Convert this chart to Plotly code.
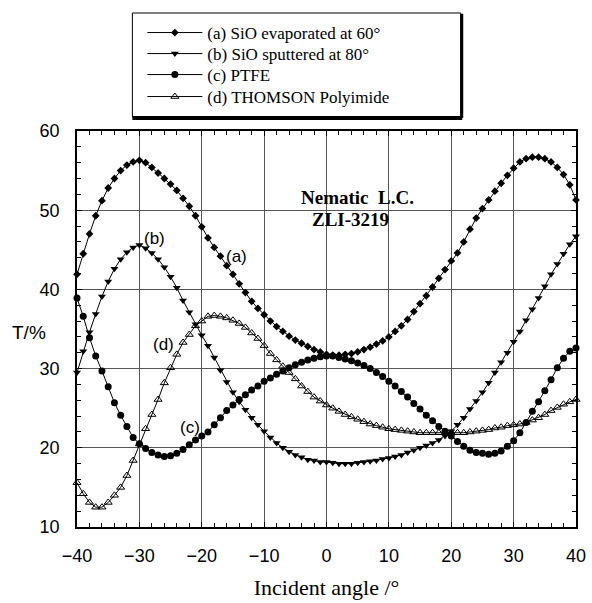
import plotly.graph_objects as go

angles = list(range(-40, 41))

series_a = [41.9, 44.5, 47.0, 49.3, 51.2, 52.8, 54.0, 55.0, 55.7, 56.1, 56.3, 56.0, 55.4, 54.7, 54.0, 53.3, 52.5, 51.5, 50.5, 49.3, 47.9,
            46.5, 45.3, 44.2, 43.0, 41.9, 40.7, 39.6, 38.5, 37.6, 36.8, 36.0, 35.3, 34.7, 34.1, 33.6, 33.2, 32.8, 32.4, 32.1, 31.8,
            31.7, 31.7, 31.8, 31.9, 32.1, 32.4, 32.7, 33.1, 33.5, 34.0, 34.7, 35.4, 36.2, 37.2, 38.2, 39.2, 40.3, 41.4, 42.5, 43.6,
            44.6, 46.0, 47.6, 49.0, 50.2, 51.3, 52.4, 53.4, 54.4, 55.3, 56.1, 56.5, 56.7, 56.7, 56.5, 56.1, 55.4, 54.5, 53.2, 51.3]

series_b = [29.5, 32.2, 34.6, 36.9, 39.1, 41.0, 42.6, 43.8, 44.7, 45.3, 45.6, 45.2, 44.6, 43.8, 42.8, 41.6, 40.2, 38.6, 37.1, 35.6, 34.2,
            32.9, 31.4, 29.8, 28.3, 27.0, 25.8, 24.8, 23.8, 22.9, 22.1, 21.3, 20.6, 20.0, 19.5, 19.1, 18.8, 18.5, 18.4, 18.2, 18.2,
            18.1, 18.0, 18.0, 18.0, 18.1, 18.2, 18.3, 18.4, 18.6, 18.7, 18.9, 19.1, 19.4, 19.7, 20.0, 20.3, 20.6, 21.0, 21.5, 22.1,
            22.9, 23.8, 24.9, 25.9, 27.0, 28.2, 29.5, 30.8, 32.0, 33.4, 34.7, 36.1, 37.5, 38.9, 40.4, 41.9, 43.2, 44.5, 45.7, 46.7]

series_c = [38.9, 36.6, 33.9, 31.6, 29.7, 27.7, 25.7, 24.1, 22.7, 21.3, 20.5, 19.9, 19.4, 19.1, 18.9, 19.0, 19.3, 19.8, 20.4, 21.0, 21.5,
            22.0, 22.9, 23.8, 24.7, 25.4, 26.1, 26.7, 27.3, 27.8, 28.4, 28.8, 29.3, 29.7, 30.1, 30.5, 30.8, 31.1, 31.3, 31.5, 31.6,
            31.6, 31.4, 31.2, 31.0, 30.7, 30.4, 30.0, 29.5, 29.0, 28.4, 27.8, 27.1, 26.4, 25.6, 24.9, 24.1, 23.4, 22.7, 22.1, 21.5,
            20.8, 20.2, 19.7, 19.4, 19.3, 19.2, 19.3, 19.6, 20.2, 20.9, 21.9, 23.2, 24.6, 25.8, 27.2, 28.6, 30.1, 31.3, 32.2, 32.6]

series_d = [15.6, 14.2, 13.1, 12.5, 12.5, 13.1, 14.0, 15.0, 16.5, 18.4, 20.5, 22.4, 24.2, 26.1, 28.2, 30.1, 31.8, 33.3, 34.3, 35.4, 36.0,
            36.6, 36.7, 36.6, 36.4, 36.1, 35.7, 35.2, 34.5, 33.8, 32.9, 31.9, 31.1, 30.3, 29.5, 28.7, 27.8, 27.1, 26.4, 25.9, 25.4,
            25.0, 24.6, 24.2, 23.9, 23.6, 23.3, 23.0, 22.8, 22.6, 22.4, 22.3, 22.2, 22.1, 22.0, 21.9, 21.9, 21.9, 21.9, 21.9, 21.9,
            21.9, 21.9, 22.0, 22.1, 22.2, 22.3, 22.5, 22.6, 22.8, 22.9, 23.0, 23.2, 23.5, 23.8, 24.2, 24.7, 25.1, 25.5, 25.8, 26.1]

names = ["(a) SiO evaporated at 60\u00b0", "(b) SiO sputtered at 80\u00b0", "(c) PTFE", "(d) THOMSON Polyimide"]
curve_labels = ["(a)", "(b)", "(c)", "(d)"]
label_x = [-14.4, -27.5, -21.9, -26.1]
label_y = [44.2, 46.4, 22.6, 33.0]

styles = [
    dict(symbol="diamond", size=6, color="black"),
    dict(symbol="triangle-down", size=7, color="black"),
    dict(symbol="circle", size=7, color="black"),
    dict(symbol="triangle-up-open", size=7, color="black", line=dict(width=1, color="black")),
]

legend_ids = ["legend", "legend2", "legend3", "legend4"]
legend_y = [1.2475, 1.1944, 1.1414, 1.0859]

fig = go.Figure()
for name, ys, mk, lg in zip(names, [series_a, series_b, series_c, series_d], styles, legend_ids):
    fig.add_trace(go.Scatter(
        x=angles, y=ys, name=name, mode="lines+markers",
        line=dict(color="black", width=1),
        marker=mk, cliponaxis=False, legend=lg,
    ))

serif = "Liberation Serif"
sans = "Liberation Sans"

axis_common = dict(
    showline=True, linecolor="black", linewidth=1.5, mirror="allticks",
    ticks="inside", ticklen=5, tickcolor="black",
    showgrid=True, gridcolor="#555", gridwidth=1,
    zeroline=False, automargin=False,
    tickfont=dict(family=sans, size=18, color="black"),
)

fig.update_xaxes(range=[-40, 40], tickvals=[-40, -30, -20, -10, 0, 10, 20, 30, 40],
                 minor=dict(dtick=2, ticks="inside", ticklen=4, tickcolor="black", showgrid=False),
                 title=dict(text="Incident angle /\u00b0", font=dict(family=serif, size=22, color="black"), standoff=14),
                 ticklabelstandoff=12, **axis_common)
fig.update_yaxes(range=[10, 60], tickvals=[10, 20, 30, 40, 50, 60],
                 minor=dict(dtick=2, ticks="inside", ticklen=4, tickcolor="black", showgrid=False),
                 ticklabelstandoff=12, **axis_common)

annotations = []
for t, x, y in zip(curve_labels, label_x, label_y):
    annotations.append(dict(x=x, y=y, xref="x", yref="y", text=t, showarrow=False,
                            font=dict(family=sans, size=17, color="black")))
annotations.append(dict(x=4.9, y=51.6, xref="x", yref="y", text="<b>Nematic  L.C.</b>", showarrow=False,
                        font=dict(family=serif, size=19, color="black")))
annotations.append(dict(x=3.9, y=48.8, xref="x", yref="y", text="<b>ZLI-3219</b>", showarrow=False,
                        font=dict(family=serif, size=19, color="black")))
annotations.append(dict(x=-0.134, y=0.49, xref="paper", yref="paper", xanchor="left", text="T/%", showarrow=False,
                        font=dict(family=sans, size=19, color="black")))

# legend frame with shadowed bottom/right edges
shapes = [
    dict(type="rect", xref="paper", yref="paper", x0=0.111, x1=0.769, y0=1.035, y1=1.298,
         line=dict(color="black", width=1)),
    dict(type="line", xref="paper", yref="paper", x0=0.111, x1=0.772, y0=1.033, y1=1.033,
         line=dict(color="black", width=4)),
    dict(type="line", xref="paper", yref="paper", x0=0.771, x1=0.771, y0=1.033, y1=1.296,
         line=dict(color="black", width=3)),
]

legend_common = dict(x=0.131, xanchor="left", yanchor="middle",
                     font=dict(family=serif, size=17, color="black"),
                     bgcolor="rgba(0,0,0,0)", borderwidth=0, itemwidth=55)

fig.update_layout(
    width=592, height=603,
    margin=dict(l=77, r=16, t=131, b=76, autoexpand=False),
    plot_bgcolor="white", paper_bgcolor="white",
    showlegend=True,
    legend=dict(y=legend_y[0], **legend_common),
    legend2=dict(y=legend_y[1], **legend_common),
    legend3=dict(y=legend_y[2], **legend_common),
    legend4=dict(y=legend_y[3], **legend_common),
    annotations=annotations,
    shapes=shapes,
)

fig.write_html("out.html")
